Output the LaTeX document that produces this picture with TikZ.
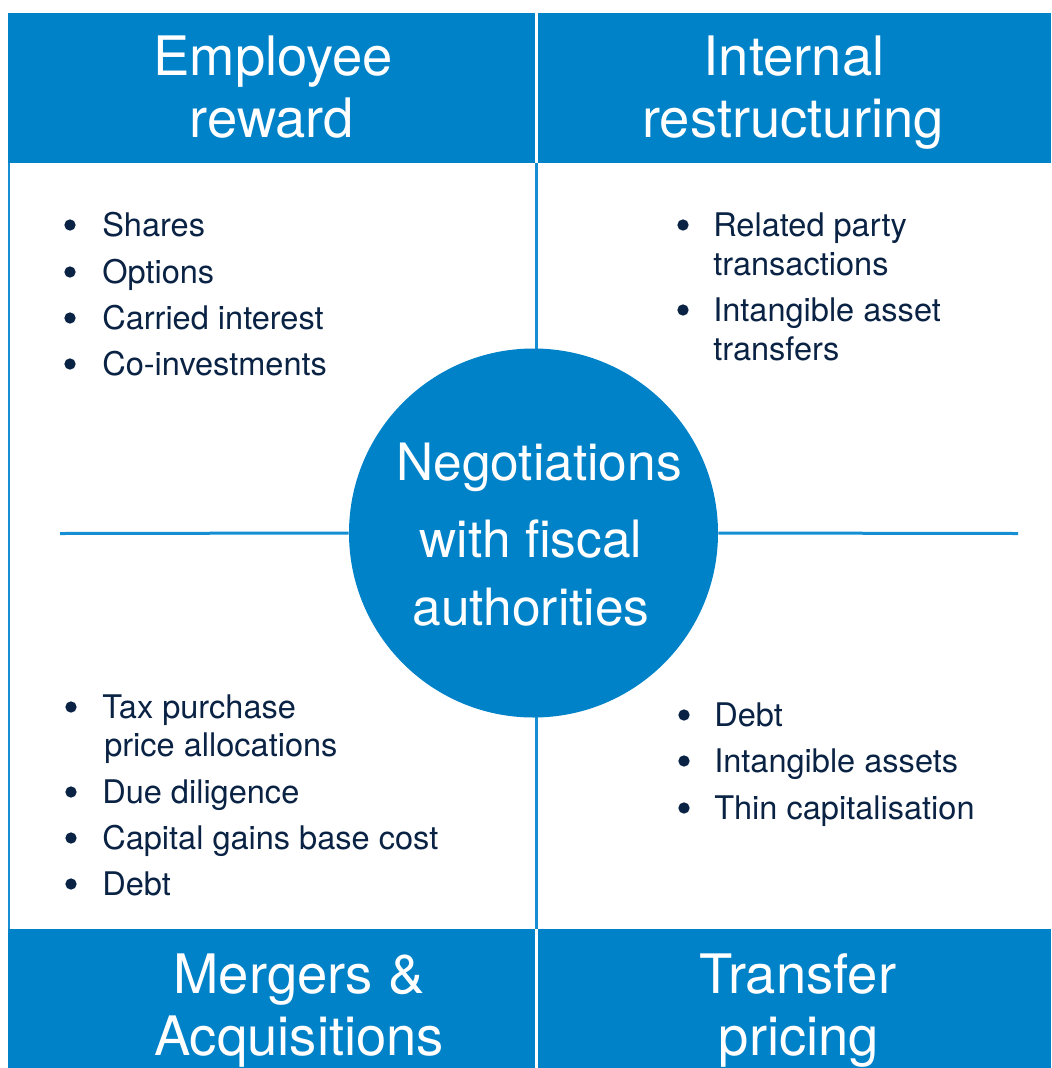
\documentclass[tikz,border=0pt]{standalone}
\usepackage{fontspec}
\setmainfont{TeX Gyre Heros}
\definecolor{pwcblue}{RGB}{0,130,200}
\definecolor{lineblue}{RGB}{22,142,212}
\definecolor{navy}{RGB}{10,35,68}
\begin{document}
\begin{tikzpicture}[x=0.75pt,y=-0.75pt,
  head/.style={font=\fontsize{40.8}{47}\selectfont, text=white, anchor=base, inner sep=0pt},
  itemtext/.style={font=\fontsize{24.4}{29}\selectfont, text=navy, anchor=base west, inner sep=0pt},
  dot/.style={circle, fill=navy, inner sep=0pt, minimum size=8.5pt},
  ctext/.style={font=\fontsize{38.6}{50}\selectfont, text=white, anchor=base, inner sep=0pt},
  band/.style={fill=pwcblue, draw=none},
  divline/.style={draw=lineblue, line width=2.25pt}]
\useasboundingbox (0,0) rectangle (1051,1068);
\fill[white] (0,0) rectangle (1051,1068);
% bands
\path[band] (8,13) rectangle (1051,163);
\path[band] (8,929) rectangle (1051,1068);
\draw[white, line width=2pt] (536.5,13) -- (536.5,163);
\draw[white, line width=2pt] (536.5,929) -- (536.5,1068);
% body lines
\coordinate (lt) at (9,163);
\coordinate (lb) at (9,929);
\draw[divline, line width=1.8pt] (lt) -- (lb);
\coordinate (vt) at (536.5,163);
\coordinate (vb) at (536.5,929);
\draw[divline] (vt) -- (vb);
% hub
\node[circle, fill=pwcblue, minimum size=276.75pt, inner sep=0pt] (hub) at (533.5,533) {};
\coordinate (hl) at (60,533.5);
\coordinate (hr) at (1018,533.5);
\draw[divline] (hl) -- (hub.west);
\draw[divline] (hub.east) -- (hr);
\node[ctext] (c1) at (539,480) {Negotiations};
\node[ctext] (c2) at (531,557) {with fiscal};
\node[ctext] (c3) at (531,625) {authorities};
% headers
\node[head] (h1a) at (273,75) {Employee};
\node[head] (h1b) at (272,137) {reward};
\node[head] (h2a) at (794,75) {Internal};
\node[head] (h2b) at (793,137) {restructuring};
\node[head] (h3a) at (299,993) {Mergers \&};
\node[head] (h3b) at (299,1055) {Acquisitions};
\node[head] (h4a) at (798,993) {Transfer};
\node[head] (h4b) at (799,1055) {pricing};
% top left
\node[dot] (d11) at (70,225) {}; \node[itemtext] (t11) at (102,236) {Shares};
\node[dot] (d12) at (70,272) {}; \node[itemtext] (t12) at (102,283) {Options};
\node[dot] (d13) at (70,318) {}; \node[itemtext] (t13) at (102,329) {Carried interest};
\node[dot] (d14) at (70,364) {}; \node[itemtext] (t14) at (102,375) {Co-investments};
% top right
\node[dot] (d21) at (683,225) {}; \node[itemtext] (t21) at (713,236) {Related party};
\node[itemtext] (t21b) at (713,275) {transactions};
\node[dot] (d22) at (683,310) {}; \node[itemtext] (t22) at (713,321) {Intangible asset};
\node[itemtext] (t22b) at (713,360) {transfers};
% bottom left
\node[dot] (d31) at (71,707) {}; \node[itemtext] (t31) at (102,718) {Tax purchase};
\node[itemtext] (t31b) at (104,756) {price allocations};
\node[dot] (d32) at (71,792) {}; \node[itemtext] (t32) at (102,803) {Due diligence};
\node[dot] (d33) at (71,838) {}; \node[itemtext] (t33) at (102,849) {Capital gains base cost};
\node[dot] (d34) at (71,884) {}; \node[itemtext] (t34) at (102,895) {Debt};
% bottom right
\node[dot] (d41) at (684,715) {}; \node[itemtext] (t41) at (714,726) {Debt};
\node[dot] (d42) at (684,761) {}; \node[itemtext] (t42) at (714,772) {Intangible assets};
\node[dot] (d43) at (684,808) {}; \node[itemtext] (t43) at (714,819) {Thin capitalisation};
\end{tikzpicture}
\end{document}
